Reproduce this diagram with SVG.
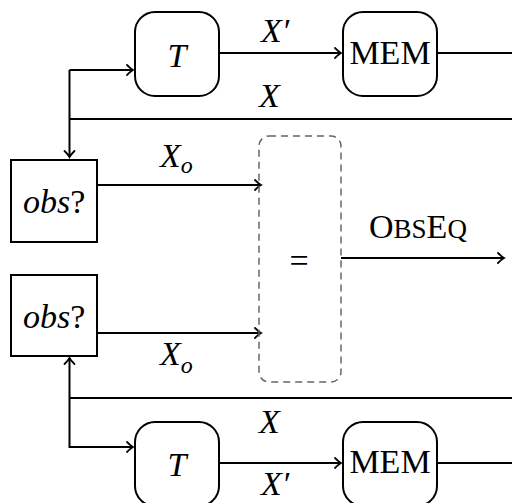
<svg xmlns="http://www.w3.org/2000/svg" width="512" height="503" viewBox="0 0 512 503">
<defs>
<marker id="arr" markerUnits="userSpaceOnUse" markerWidth="14" markerHeight="14" viewBox="-10 -7 14 14" refX="0" refY="0" orient="auto">
<path d="M-6,-5 Q-2,-1 0,0 Q-2,1 -6,5" fill="none" stroke="#000" stroke-width="1.8" stroke-linecap="round"/>
</marker>
<style>
.box{fill:#fff;stroke:#000;stroke-width:2}
.ln{fill:none;stroke:#000;stroke-width:2}
.math{font-family:"Liberation Serif","DejaVu Serif",serif;font-style:italic;font-size:34px;fill:#000}
.rm{font-family:"Liberation Serif","DejaVu Serif",serif;font-size:34px;fill:#000}
.sc{font-family:"Liberation Serif","DejaVu Serif",serif;font-size:27px;fill:#000}
</style>
</defs>
<g id="connectors">
<path class="ln" d="M219,53 H341" marker-end="url(#arr)"/>
<path class="ln" d="M437,53 H512"/>
<path class="ln" d="M69.5,70 V157" marker-end="url(#arr)"/>
<path class="ln" d="M69.5,119 H512"/>
<path class="ln" d="M97,185 H261" marker-end="url(#arr)"/>
<path class="ln" d="M97,333 H261" marker-end="url(#arr)"/>
<path class="ln" d="M341,258 H504" marker-end="url(#arr)"/>
<path class="ln" d="M69.5,398 V358" marker-end="url(#arr)"/>
<path class="ln" d="M69.5,398 H512"/>
<path class="ln" d="M69.5,398 V447 H133" marker-end="url(#arr)"/>
<path class="ln" d="M219,463 H341" marker-end="url(#arr)"/>
<path class="ln" d="M437,463 H512"/>
<path class="ln" d="M69.5,70 H133" marker-end="url(#arr)"/>
</g>
<g id="labels">
<text class="math" x="261" y="42">X′</text>
<text class="math" x="259" y="107">X</text>
<text class="math" x="160" y="167">X<tspan font-size="24" dy="6">o</tspan></text>
<text class="math" x="160" y="365">X<tspan font-size="24" dy="8">o</tspan></text>
<text class="math" x="259" y="433">X</text>
<text class="math" x="261" y="495">X′</text>
<text x="369" y="238"><tspan class="rm" font-size="35">O</tspan><tspan class="sc">BS</tspan><tspan class="rm" font-size="35">E</tspan><tspan class="sc">Q</tspan></text>
</g>
<g id="T1">
<rect class="box" x="135" y="12" width="84" height="84" rx="20"/>
<text class="math" x="177" y="67" text-anchor="middle">T</text>
</g>
<g id="MEM1">
<rect class="box" x="343" y="12" width="94" height="84" rx="20"/>
<text class="rm" font-size="28" x="390" y="64" text-anchor="middle">MEM</text>
</g>
<g id="obs1">
<rect class="box" x="11" y="160" width="86" height="82"/>
<text class="math" x="23" y="213">obs<tspan font-style="normal">?</tspan></text>
</g>
<g id="eq">
<rect x="259" y="136" width="82" height="246" rx="10" fill="none" stroke="#666" stroke-width="1.5" stroke-dasharray="7 5"/>
<text class="rm" font-size="50" x="299" y="272" text-anchor="middle">=</text>
</g>
<g id="obs2">
<rect class="box" x="11" y="275" width="86" height="81"/>
<text class="math" x="23" y="328">obs<tspan font-style="normal">?</tspan></text>
</g>
<g id="T2">
<rect class="box" x="135" y="422" width="84" height="84" rx="20"/>
<text class="math" x="177" y="476" text-anchor="middle">T</text>
</g>
<g id="MEM2">
<rect class="box" x="343" y="422" width="94" height="84" rx="20"/>
<text class="rm" font-size="28" x="390" y="473" text-anchor="middle">MEM</text>
</g>
</svg>
